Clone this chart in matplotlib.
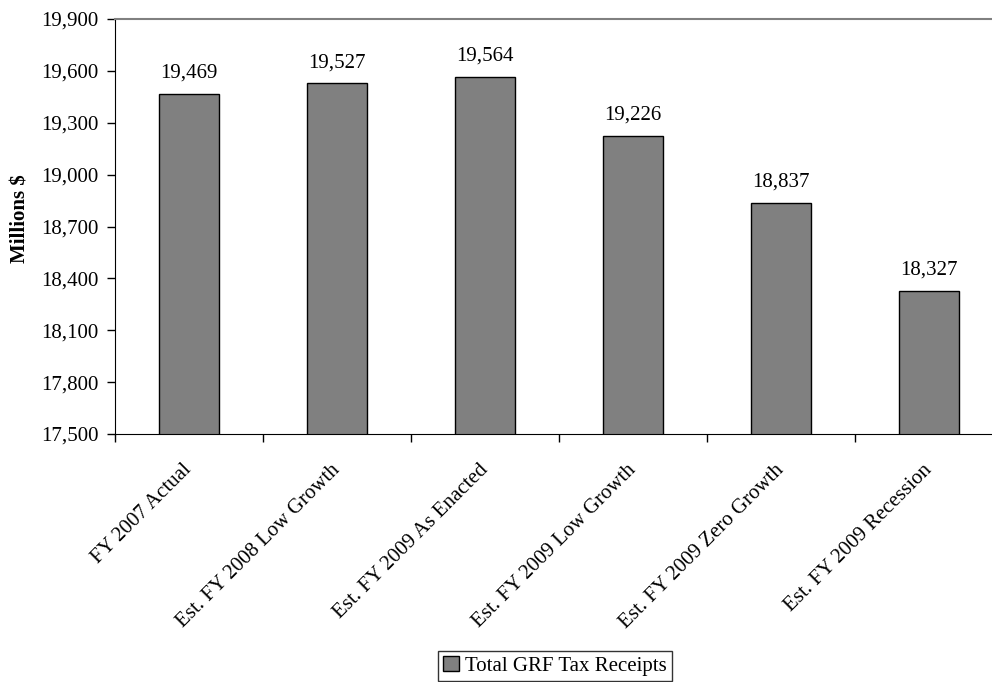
import matplotlib.pyplot as plt
import numpy as np
from matplotlib.ticker import FuncFormatter

# Données
categories = ["FY 2007 Actual", "Est. FY 2008 Low Growth", "Est. FY 2009 As Enacted",
              "Est. FY 2009 Low Growth", "Est. FY 2009 Zero Growth", "Est. FY 2009 Recession"]
receipts = [19469, 19527, 19564, 19226, 18837, 18327]
series_name = "Total GRF Tax Receipts"
y_ticks = [17500, 17800, 18100, 18400, 18700, 19000, 19300, 19600, 19900]

plt.rcParams['font.family'] = ['Liberation Serif', 'DejaVu Serif']
FS = 15

fig = plt.figure(figsize=(9.92, 6.82), dpi=100)
ax = fig.add_axes([115 / 992, 1 - 434 / 682, 888 / 992, 415 / 682])

x = np.arange(len(categories))
ax.bar(x, receipts, width=0.4, color='#808080', edgecolor='black',
       linewidth=1.0, label=series_name)

for xi, v in zip(x, receipts):
    ax.annotate(f"{v:,}", (xi, v), xytext=(0, 8), textcoords='offset points',
                ha='center', va='bottom', fontsize=FS)

ax.set_xlim(-0.5, len(categories) - 0.5)
ax.set_ylim(y_ticks[0], y_ticks[-1])
ax.set_yticks(y_ticks)
ax.yaxis.set_major_formatter(FuncFormatter(lambda v, p: f"{int(v):,}"))

# graduations entre les catégories
ax.set_xticks(np.arange(len(categories) + 1) - 0.5)
ax.set_xticklabels([])
ax.set_xticks(x, minor=True)
ax.set_xticklabels(categories, minor=True, rotation=45, ha='right', va='center',
                   rotation_mode='anchor', fontsize=FS)
ax.tick_params(axis='x', which='minor', length=0, pad=24)
ax.tick_params(axis='x', which='major', length=6, direction='out', width=1)
ax.tick_params(axis='y', length=6, direction='out', width=1, labelsize=FS, pad=6)

ax.spines['right'].set_visible(False)
ax.spines['top'].set_color('#808080')
ax.spines['top'].set_linewidth(1.5)

ax.set_ylabel("Millions $", fontsize=FS, fontweight='bold')
ax.yaxis.set_label_coords((30 - 115) / 888, 0.52)

leg = fig.legend(loc='center', bbox_to_anchor=(555 / 992, 1 - 666 / 682),
                 fontsize=FS, frameon=True, fancybox=False, edgecolor='black',
                 handlelength=0.75, handleheight=0.75, handletextpad=0.3,
                 borderpad=0.25)
leg.get_frame().set_linewidth(1.0)

fig.savefig("out.png", dpi=100)
plt.close()
